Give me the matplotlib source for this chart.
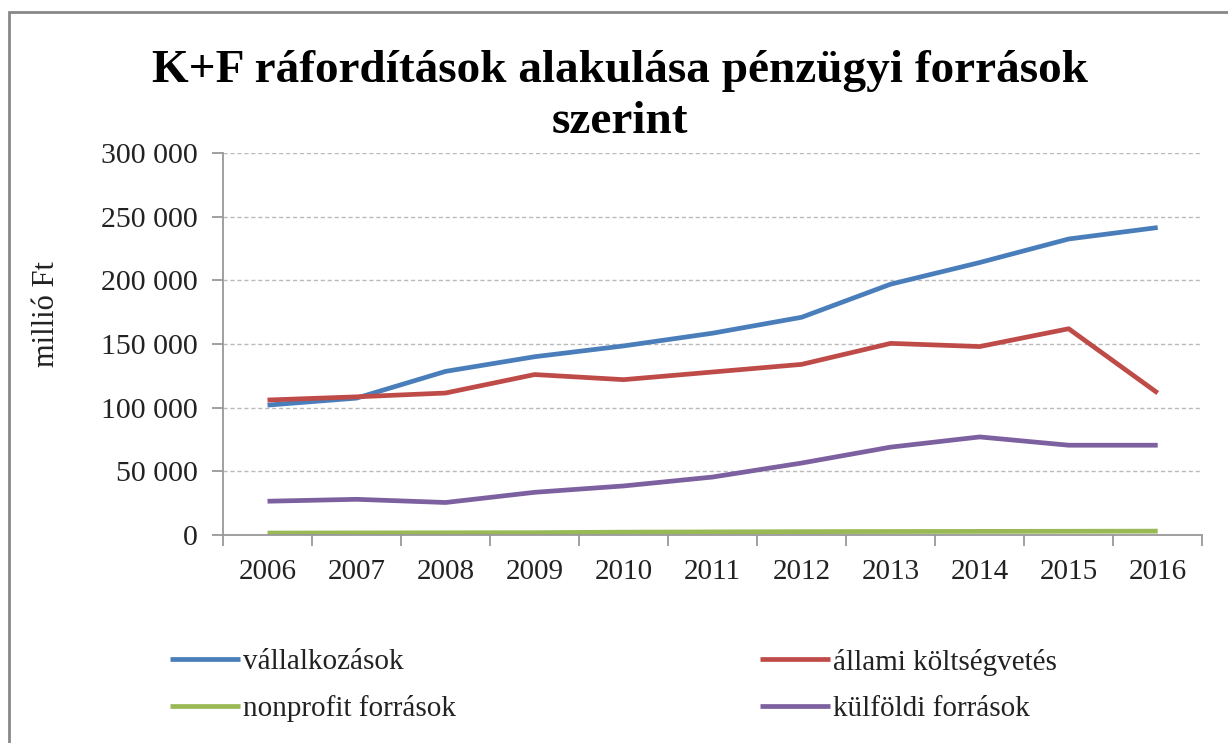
import matplotlib
matplotlib.use("Agg")
import matplotlib.pyplot as plt
from matplotlib.patches import Rectangle
from matplotlib.ticker import FuncFormatter, MultipleLocator

years = ["2006", "2007", "2008", "2009", "2010", "2011", "2012", "2013", "2014", "2015", "2016"]

vallalkozasok = [102000, 107500, 128500, 140000, 148500, 158500, 171000, 197000, 214000, 232500, 241500]
allami = [106000, 108500, 111500, 126000, 122000, 128000, 134000, 150500, 148000, 162000, 111500]
nonprofit = [1500, 1600, 1700, 1800, 2200, 2400, 2600, 2700, 2800, 2900, 3000]
kulfoldi = [26500, 28000, 25500, 33500, 38500, 45500, 56500, 69000, 77000, 70500, 70500]

series_names = ["vállalkozások", "állami költségvetés", "nonprofit források", "külföldi források"]
colors = ["#4A7EBB", "#BE4B48", "#98B954", "#7D60A0"]

plt.rcParams["font.family"] = ["Liberation Serif", "DejaVu Serif"]

fig = plt.figure(figsize=(12.28, 7.43), dpi=100)
ax = fig.add_axes([0.1816, 0.28, 0.7974, 0.514])

x = range(len(years))
lines = []
for vals, name, c in zip([vallalkozasok, allami, nonprofit, kulfoldi], series_names, colors):
    ln, = ax.plot(x, vals, color=c, lw=3.4, label=name, solid_capstyle="butt")
    lines.append(ln)

ax.set_xlim(-0.5, len(years) - 0.5)
ax.set_ylim(0, 300000)
ax.yaxis.set_major_locator(MultipleLocator(50000))
ax.yaxis.set_major_formatter(FuncFormatter(lambda v, p: f"{int(v):,}".replace(",", " ")))
ax.set_xticks([i for i in x])
ax.set_xticklabels(years)
ax.set_xticks([i + 0.5 for i in range(-1, len(years))], minor=True)
ax.tick_params(axis="x", which="major", length=0, labelsize=21, pad=17, labelcolor="#222222")
ax.tick_params(axis="x", which="minor", length=8, color="#999999", width=1.3)
ax.tick_params(axis="y", length=8, color="#999999", width=1.3, labelsize=21.5, pad=10,
               labelcolor="#222222")
ax.grid(axis="y", linestyle=(0, (3, 2)), color="#BBBBBB", lw=1)
ax.set_axisbelow(True)
for s in ["top", "right"]:
    ax.spines[s].set_visible(False)
for s in ["left", "bottom"]:
    ax.spines[s].set_color("#999999")
    ax.spines[s].set_linewidth(1.3)

ax.set_ylabel("millió Ft", fontsize=22, color="#222222")
ax.yaxis.set_label_coords(-0.165, 0.579)

fig.text(0.505, 0.87, "K+F ráfordítások alakulása pénzügyi források\nszerint",
         ha="center", va="center", fontsize=34, fontweight="bold", linespacing=1.3)

leg_kw = dict(frameon=False, fontsize=21, handlelength=2.4, handletextpad=0.1,
              labelspacing=0.7, borderaxespad=0, borderpad=0, labelcolor="#222222")
fig.legend([lines[0], lines[2]], [series_names[0], series_names[2]],
           loc="upper left", bbox_to_anchor=(0.1384, 0.127), **leg_kw)
fig.legend([lines[1], lines[3]], [series_names[1], series_names[3]],
           loc="upper left", bbox_to_anchor=(0.619, 0.127), **leg_kw)

fig.patches.append(Rectangle((0.007, -0.01), 1.5, 0.994, transform=fig.transFigure,
                             fill=False, edgecolor="#888888", lw=2))

fig.savefig("out.png", dpi=100)
